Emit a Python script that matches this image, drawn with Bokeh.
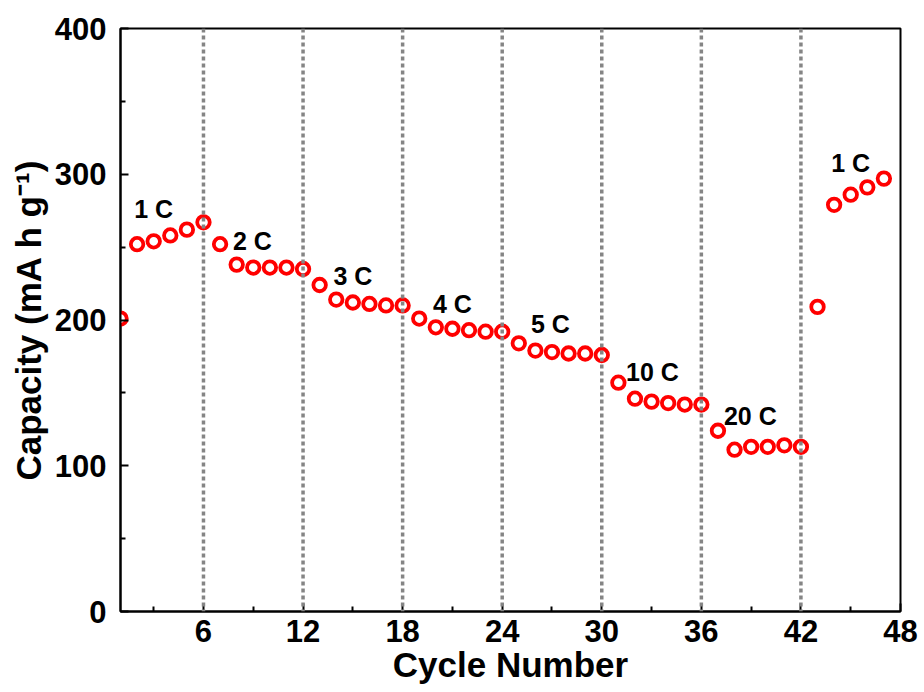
from bokeh.plotting import figure
from bokeh.models import FixedTicker, Span, ColumnDataSource, Range1d
from bokeh.core.properties import value
from bokeh.embed import file_html
from bokeh.resources import INLINE

# Rate-capability data: capacity per cycle
cycles = list(range(1, 48))
capacity = [201, 252, 254, 258, 262, 267,
            252, 238, 236, 236, 236, 235,
            224, 214, 212, 211, 210, 210,
            201, 195, 194, 193, 192, 192,
            184, 179, 178, 177, 177, 176,
            157, 146, 144, 143, 142, 142,
            124, 111, 113, 113, 114, 113,
            209, 279, 286, 291, 297]

# Rate labels and their anchor positions in data space
rate_labels = ["1 C", "2 C", "3 C", "4 C", "5 C", "10 C", "20 C", "1 C"]
label_x = [3.0, 8.95, 15.0, 21.0, 26.9, 33.05, 38.95, 45.0]
label_y = [276, 254, 230, 211, 197, 164, 134, 308]

# Boundaries between rate steps
boundaries = [6, 12, 18, 24, 30, 36, 42]

x_ticks = [6, 12, 18, 24, 30, 36, 42, 48]
x_minor = [3, 9, 15, 21, 27, 33, 39, 45]
y_ticks = [0, 100, 200, 300, 400]
y_minor = [50, 150, 250, 350]

FONT = "Liberation Sans"

p = figure(frame_width=780, frame_height=583, output_backend="svg",
           toolbar_location=None, x_range=Range1d(1, 48), y_range=Range1d(0, 400))
p.min_border_left = 120
p.min_border_right = 24
p.min_border_top = 28
p.min_border_bottom = 81
p.grid.visible = False
p.outline_line_color = "black"
p.outline_line_width = 2
p.background_fill_color = "white"
p.border_fill_color = "white"

for b in boundaries:
    p.add_layout(Span(location=b, dimension="height", line_color="#858585",
                      line_width=3.5, line_dash="4 3"))

src = ColumnDataSource(dict(x=cycles, y=capacity))
p.scatter("x", "y", source=src, size=12.5, fill_color="white",
          line_color="#ff0000", line_width=3.8)

lsrc = ColumnDataSource(dict(x=label_x, y=label_y, t=rate_labels))
p.text("x", "y", text="t", source=lsrc, text_font=value(FONT),
       text_font_style="bold", text_font_size="25px", text_color="black",
       text_align="center", text_baseline="middle")

p.xaxis.ticker = FixedTicker(ticks=x_ticks, minor_ticks=x_minor)
p.yaxis.ticker = FixedTicker(ticks=y_ticks, minor_ticks=y_minor)

for ax in (p.xaxis[0], p.yaxis[0]):
    ax.axis_line_width = 2
    ax.axis_line_color = "black"
    ax.major_tick_in = 8
    ax.major_tick_out = 0
    ax.minor_tick_in = 5
    ax.minor_tick_out = 0
    ax.major_tick_line_width = 2
    ax.minor_tick_line_width = 2
    ax.major_label_text_font = FONT
    ax.major_label_text_font_style = "bold"
    ax.major_label_text_font_size = "31px"
    ax.major_label_text_color = "black"
    ax.axis_label_text_font = FONT
    ax.axis_label_text_font_style = "bold"
    ax.axis_label_text_color = "black"

p.xaxis.axis_label = "Cycle Number"
p.yaxis.axis_label = "Capacity (mA h g\u207b\u00b9)"
p.xaxis.axis_label_text_font_size = "35px"
p.yaxis.axis_label_text_font_size = "35px"
p.xaxis.major_label_standoff = 8
p.xaxis.axis_label_standoff = 0
p.yaxis.major_label_standoff = 14
p.yaxis.axis_label_standoff = 4

open("out.html", "w").write(file_html(p, INLINE))
